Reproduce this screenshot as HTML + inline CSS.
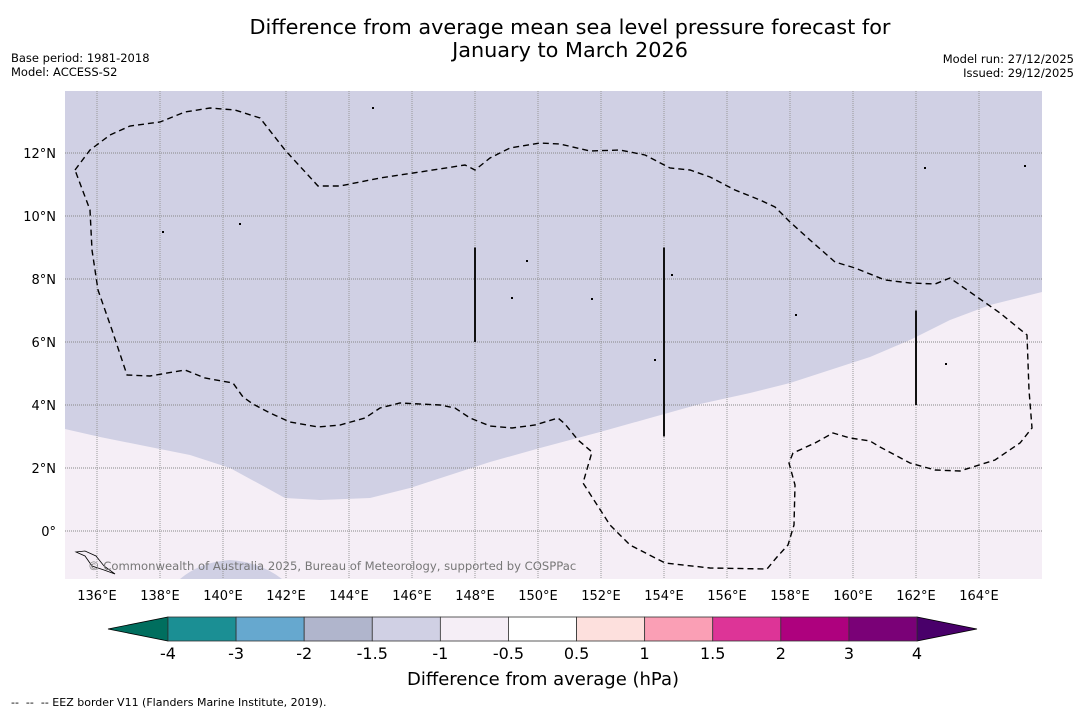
<!DOCTYPE html>
<html><head><meta charset="utf-8"><style>
body{margin:0;background:#fff;width:1085px;height:713px;overflow:hidden;font-family:"DejaVu Sans","Liberation Sans",sans-serif}
svg text{font-family:"DejaVu Sans","Liberation Sans",sans-serif}
</style></head><body>
<svg id="chart" width="1085" height="713" xmlns="http://www.w3.org/2000/svg">
<text x="570" y="34" font-size="20.8" text-anchor="middle">Difference from average mean sea level pressure forecast for</text>
<text x="570" y="57" font-size="20.8" text-anchor="middle">January to March 2026</text>
<text x="11" y="62" font-size="11.5">Base period: 1981-2018</text>
<text x="11" y="76" font-size="11.5">Model: ACCESS-S2</text>
<text x="1074" y="63" font-size="11.5" text-anchor="end">Model run: 27/12/2025</text>
<text x="1074" y="77" font-size="11.5" text-anchor="end">Issued: 29/12/2025</text>
<g id="map"></g>
<g id="cbar"></g>
<text x="543" y="685" font-size="18" text-anchor="middle">Difference from average (hPa)</text>
<text x="11" y="706" font-size="11" xml:space="preserve">--  --  -- EEZ border V11 (Flanders Marine Institute, 2019).</text>
</svg>
<script>
const NS="http://www.w3.org/2000/svg";
const lonTicks=[136,138,140,142,144,146,148,150,152,154,156,158,160,162,164];
const latTicks=[0,2,4,6,8,10,12];
const cbLabels=["-4","-3","-2","-1.5","-1","-0.5","0.5","1","1.5","2","3","4"];
const cbColors=["#1b8f94","#66a8cf","#b0b5cc","#d0d0e4","#f5eef6","#ffffff","#fde0dd","#fa9fb5","#dd3497","#ae017e","#7a0177"];
const eezPx=[[75,170],[90,150],[110,135],[130,126],[160,122],[185,112],[210,108],[235,110],[260,118],[285,150],[318,186],[340,186],[380,178],[420,172],[465,165],[475,170],[490,158],[510,148],[540,143],[560,144],[590,151],[620,150],[645,155],[670,168],[690,170],[710,177],[735,190],[760,200],[775,207],[790,222],[810,240],[835,262],[855,268],[885,280],[910,283],[935,284],[950,278],[970,292],[1000,313],[1027,335],[1029,390],[1032,428],[1020,443],[995,460],[960,471],[935,470],[910,463],[880,447],[870,441],[850,438],[833,433],[815,443],[793,453],[789,463],[795,485],[794,525],[788,545],[777,557],[767,569],[710,568],[665,563],[630,545],[610,525],[583,483],[592,452],[578,440],[565,424],[558,418],[535,425],[512,428],[490,426],[470,418],[455,408],[440,405],[400,403],[380,408],[365,418],[340,425],[318,427],[290,422],[270,413],[253,404],[243,397],[233,383],[205,378],[185,370],[150,376],[127,375],[112,330],[98,290],[92,250],[90,210],[75,170]];
const shadePx=[[65,429],[100,437],[150,447],[190,455],[230,468],[265,487],[285,498],[320,500],[370,498],[410,488],[450,475],[490,462],[540,448],[600,432],[650,418],[700,404],[750,393],[790,383],[830,370],[870,357],[910,340],[950,320],[990,305],[1042,292]];
const toLon=x=>136+(x-97)/31.5, toLat=y=>(531-y)/31.5;
const eezLon=eezPx.map(p=>toLon(p[0])), eezLat=eezPx.map(p=>toLat(p[1]));
const shadeLon=shadePx.map(p=>toLon(p[0])), shadeLat=shadePx.map(p=>toLat(p[1]));
const X=lon=>97+(lon-136)*31.5, Y=lat=>531-lat*31.5;
const x0=65,x1=1042,y0=91,y1=579;
function el(t,a,p){const e=document.createElementNS(NS,t);for(const k in a)e.setAttribute(k,a[k]);(p||document.getElementById('map')).appendChild(e);return e;}
let r=el('rect',{x:x0,y:y0,width:x1-x0,height:y1-y0,fill:'#d0d0e4'});


let d='M'+x0+','+y1;
shadeLon.forEach((l,i)=>{d+=' L'+X(l).toFixed(1)+','+Y(shadeLat[i]).toFixed(1);});
d+=' L'+x1+','+y1+' Z';
let sh=el('path',{d:d,fill:'#f5eef6'});


let blob=el('path',{d:'M180,579 Q200,562 230,560 Q260,562 282,579 Z',fill:'#d0d0e4'});


lonTicks.forEach(l=>{
  let g=el('line',{x1:X(l),x2:X(l),y1:y0,y2:y1,stroke:'#999',"stroke-width":1,"stroke-dasharray":'1,1'});
  
  
  let t=el('text',{x:X(l),y:600,"font-size":13,"text-anchor":'middle'});t.textContent=l+'°E';
  
  
});
latTicks.forEach(l=>{
  let g=el('line',{x1:x0,x2:x1,y1:Y(l),y2:Y(l),stroke:'#888',"stroke-width":1,"stroke-dasharray":'1,1'});
  
  
  let t=el('text',{x:56,y:Y(l)+5,"font-size":13,"text-anchor":'end'});t.textContent=l===0?'0°':l+'°N';
  
  
});
let ed='';eezLon.forEach((l,i)=>{ed+=(i?' L':'M')+X(l).toFixed(1)+','+Y(eezLat[i]).toFixed(1);});
let eez=el('path',{d:ed,fill:'none',stroke:'#000',"stroke-width":1.4,"stroke-dasharray":'6,4'});


[[148,9,6],[154,9,3],[162,7,4]].forEach(s=>{
  let v=el('line',{x1:X(s[0]),x2:X(s[0]),y1:Y(s[1]),y2:Y(s[2]),stroke:'#111',"stroke-width":2});
  
  
});
[[373,108],[163,232],[527,261],[592,299],[672,275],[796,315],[946,364],[1025,166],[925,168],[240,224],[655,360],[512,298]].forEach(p=>{
  let c=el('rect',{x:p[0]-1,y:p[1]-1,width:2,height:2,fill:'#000'});
  
  
});
let isl=el('path',{d:'M76,552 L85,556 L92,566 L104,570 L115,574 L104,566 L96,556 L85,551 Z',fill:'none',stroke:'#000',"stroke-width":0.8});


let cp=el('text',{x:88,y:570,"font-size":11.6,fill:'#777'});cp.textContent='© Commonwealth of Australia 2025, Bureau of Meteorology, supported by COSPPac';


const cb=document.getElementById('cbar');
const cx0=168,cx1=917,cy0=617,cy1=641,w=(cx1-cx0)/cbColors.length;
let lt=el('path',{d:`M108,629 L${cx0},${cy0} L${cx0},${cy1} Z`,fill:'#006e5e',stroke:'#000',"stroke-width":0.8},cb);


let rt=el('path',{d:`M977,629 L${cx1},${cy0} L${cx1},${cy1} Z`,fill:'#49006a',stroke:'#000',"stroke-width":0.8},cb);


cbColors.forEach((c,i)=>{
  let s=el('rect',{x:cx0+i*w,y:cy0,width:w,height:cy1-cy0,fill:c,stroke:'#333',"stroke-width":0.8},cb);
  
  
});
cbLabels.forEach((l,i)=>{
  let t=el('text',{x:cx0+i*w,y:659,"font-size":16,"text-anchor":'middle'},cb);t.textContent=l;
  
  
});
</script>
</body></html>
